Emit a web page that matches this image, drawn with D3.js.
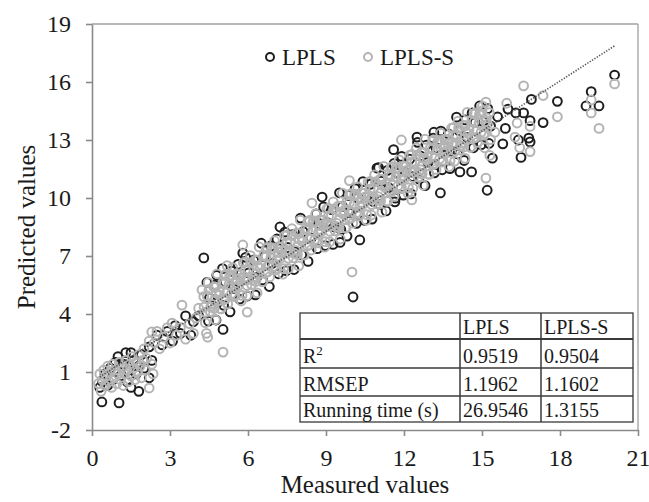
<!DOCTYPE html>
<html>
<head>
<meta charset="utf-8">
<script src="https://cdn.jsdelivr.net/npm/d3@7"></script>
<style>
  html, body { margin: 0; padding: 0; background: #fff; }
  svg { display: block; }
  text { font-family: "Liberation Serif", "Times New Roman", serif; fill: #1a1a1a; }
</style>
</head>
<body>
<svg id="chart" width="649" height="502"></svg>
<script>
// ---------------- DATA ----------------
const xTicks = [0, 3, 6, 9, 12, 15, 18, 21];
const yTicks = [-2, 1, 4, 7, 10, 13, 16, 19];
const seriesNames = ["LPLS", "LPLS-S"];

// LPLS (black) : [measured, predicted]
const lplsPoints = [
  [0.3,0.2],[0.38,-0.55],[0.4,0.5],[0.5,0.9],[0.6,0.3],[0.7,1.2],[0.8,0.6],[0.9,1.5],[1.04,-0.6],[1.0,1.8],
  [1.1,0.8],[1.2,1.4],[1.3,2.0],[1.35,0.5],[1.4,1.1],[1.5,2.0],[1.5,0.2],[1.6,1.6],[1.7,0.9],[1.8,1.3],
  [1.8,0.0],[1.9,1.9],[2.0,1.2],[2.2,0.7],[2.2,2.3],[2.3,1.6],
  [2.5,2.9],[2.7,2.4],[2.9,3.1],[3.1,2.6],[3.2,3.4],[3.4,3.0],[3.6,3.9],[3.8,2.9],[3.9,3.6],[4.1,3.9],
  [4.42,5.63],[4.48,3.63],[4.52,4.83],[4.72,5.49],[4.77,3.69],[4.83,4.59],[5.02,6.35],[5.06,4.45],[5.12,5.65],
  [5.31,4.11],[5.37,6.21],[5.43,5.31],[5.62,6.57],[5.68,4.77],[5.73,6.07],[5.91,6.93],[5.97,4.93],[6.03,6.13],
  [6.22,6.79],[6.28,4.99],[6.33,5.89],[6.51,7.66],[6.56,5.76],[6.62,6.96],[6.82,5.42],[6.87,7.52],[6.93,6.62],
  [7.11,7.88],[7.17,6.08],[7.22,7.38],[7.42,8.24],[7.47,6.24],[7.53,7.44],[7.71,8.1],[7.77,6.3],[7.83,7.2],
  [8.02,8.96],[8.07,7.06],[8.12,8.26],[8.31,6.72],[8.36,8.82],[8.43,7.92],[8.62,9.18],[8.67,7.38],[8.73,8.68],
  [8.91,9.54],[8.97,7.54],[9.03,8.74],[9.22,9.4],[9.27,7.6],[9.33,8.5],[9.52,10.27],[9.57,8.37],[9.63,9.57],
  [9.81,8.03],[9.86,10.13],[9.92,9.23],[10.12,10.49],[10.17,8.69],[10.23,9.99],[10.42,10.85],[10.47,8.85],[10.53,10.05],
  [10.71,10.71],[10.77,8.91],[10.83,9.81],[11.02,11.57],[11.07,9.67],[11.12,10.87],[11.31,9.33],[11.36,11.43],[11.42,10.53],
  [11.62,11.79],[11.67,9.99],[11.73,11.29],[11.91,12.15],[11.97,10.15],[12.03,11.35],[12.22,12.01],[12.27,10.21],[12.33,11.11],
  [12.52,12.88],[12.57,10.98],[12.63,12.18],[12.81,10.64],[12.86,12.74],[12.92,11.84],[13.12,13.1],[13.17,11.3],[13.23,12.6],
  [13.42,13.46],[13.47,11.46],[13.53,12.66],[13.71,13.32],[13.77,11.52],[13.83,12.42],[14.02,14.18],[14.07,12.28],[14.12,13.48],
  [14.31,11.94],[14.36,14.04],[14.42,13.14],[14.62,14.4],[14.67,12.6],[14.73,13.9],[14.91,14.76],[14.97,12.76],[15.03,13.96],
  [15.22,14.62],[15.27,12.82],[15.33,13.72],
  [4.3,6.9],[4.8,6.0],[5.8,7.15],[7.23,8.5],[8.85,10.05],[10.96,11.55],[11.6,12.5],[12.5,13.15],[13.15,13.4],
  [9.54,7.7],[10.3,7.83],[11.65,9.8],[13.4,10.26],[15.2,10.4],[15.4,12.06],[16.5,12.1],[10.04,4.88],[5.04,3.2],
  [14.15,11.35],[14.6,11.35],[16.9,15.1],[17.9,15.0],[17.35,13.9],[16.3,14.4],[16.6,14.4],[16.85,14.0],[16.8,13.1],
  [16.85,12.9],[16.4,13.0],[15.8,12.8],[19.2,15.5],[19.0,14.76],[19.5,14.76],[20.1,16.36],[15.6,14.2],[16.0,14.6],[15.9,13.6]
];

// LPLS-S (grey) : [measured, predicted]
const lplsSPoints = [
  [0.25,0.4],[0.3,0.9],[0.35,0.0],[0.4,0.6],[0.45,1.1],[0.5,0.3],[0.55,0.8],[0.6,1.3],[0.65,0.5],[0.7,1.0],
  [0.75,0.2],[0.8,1.4],[0.85,0.7],[0.9,1.1],[0.95,0.4],[1.0,0.9],[1.05,1.5],[1.1,0.6],[1.15,1.2],[1.2,0.3],
  [1.25,0.9],[1.3,1.6],[1.35,1.1],[1.4,0.5],[1.45,1.4],[1.5,0.8],[1.55,1.8],[1.6,1.2],[1.65,0.6],[1.7,1.5],
  [1.75,1.0],[1.8,1.9],[1.85,1.3],[1.9,0.7],[1.95,1.6],[2.0,2.2],[2.05,1.1],[2.1,1.7],[2.2,0.17],[2.2,2.6],
  [2.3,1.4],[2.35,0.9],[2.3,3.07],
  [2.4,2.5],[2.5,3.1],[2.6,2.2],[2.75,2.8],[2.9,3.3],[3.0,2.5],[3.08,3.53],[3.25,2.9],[3.4,3.3],[3.46,4.46],
  [3.6,2.7],[3.75,3.5],[3.9,3.0],[4.0,3.8],[4.1,4.3],[4.4,3.0],[4.45,2.8],
  [4.23,5.25],[4.31,4.35],[4.36,3.55],[4.43,4.93],[4.47,5.63],[4.55,4.13],[4.62,4.5],[4.68,5.4],[4.75,3.7],
  [4.81,6.08],[4.89,4.98],[4.94,4.28],[5.04,5.65],[5.09,4.75],[5.15,6.05],[5.22,4.52],[5.27,5.52],[5.35,6.02],
  [5.41,6.4],[5.48,4.9],[5.55,5.6],[5.63,5.47],[5.69,6.07],[5.74,4.67],[5.82,6.65],[5.88,5.75],[5.95,4.95],
  [6.02,6.32],[6.09,7.02],[6.14,5.52],[6.21,5.89],[6.28,6.79],[6.35,5.09],[6.43,7.47],[6.47,6.37],[6.55,5.67],
  [6.61,7.04],[6.68,6.14],[6.74,7.44],[6.83,5.92],[6.88,6.92],[6.95,7.42],[7.02,7.79],[7.07,6.29],[7.15,6.99],
  [7.23,6.86],[7.29,7.46],[7.34,6.06],[7.41,8.04],[7.48,7.14],[7.55,6.34],[7.62,7.71],[7.69,8.41],[7.74,6.91],
  [7.83,7.29],[7.87,8.19],[7.95,6.49],[8.01,8.86],[8.08,7.76],[8.14,7.06],[8.22,8.43],[8.28,7.53],[8.35,8.83],
  [8.43,7.31],[8.49,8.31],[8.54,8.81],[8.61,9.18],[8.67,7.68],[8.75,8.38],[8.82,8.26],[8.89,8.86],[8.95,7.46],
  [9.03,9.43],[9.08,8.53],[9.14,7.73],[9.21,9.1],[9.28,9.8],[9.35,8.3],[9.42,8.68],[9.47,9.58],[9.55,7.88],
  [9.63,10.25],[9.68,9.15],[9.74,8.45],[9.81,9.83],[9.88,8.93],[9.95,10.23],[10.03,8.7],[10.09,9.7],[10.14,10.2],
  [10.22,10.57],[10.27,9.07],[10.35,9.77],[10.41,9.65],[10.48,10.25],[10.55,8.85],[10.62,10.82],[10.69,9.92],[10.74,9.12],
  [10.83,10.5],[10.87,11.2],[10.95,9.7],[11.01,10.07],[11.08,10.97],[11.15,9.27],[11.22,11.64],[11.28,10.54],[11.34,9.84],
  [11.43,11.22],[11.47,10.32],[11.55,11.62],[11.62,10.09],[11.69,11.09],[11.75,11.59],[11.81,11.97],[11.88,10.47],[11.94,11.17],
  [12.03,11.04],[12.08,11.64],[12.15,10.24],[12.22,12.21],[12.29,11.31],[12.34,10.51],[12.42,11.89],[12.48,12.59],[12.55,11.09],
  [12.63,11.46],[12.67,12.36],[12.74,10.66],[12.81,13.04],[12.88,11.94],[12.95,11.24],[13.02,12.61],[13.09,11.71],[13.14,13.01],
  [13.23,11.48],[13.28,12.48],[13.35,12.98],[13.41,13.36],[13.47,11.86],[13.55,12.56],[13.62,12.43],[13.69,13.03],[13.74,11.63],
  [13.83,13.61],[13.88,12.71],[13.95,11.91],[14.01,13.28],[14.08,13.98],[14.14,12.48],[14.22,12.85],[14.28,13.75],[14.35,12.05],
  [14.43,14.43],[14.47,13.33],[14.55,12.63],[14.61,14.0],[14.68,13.1],[14.74,14.4],[14.82,12.88],[14.89,13.88],[14.95,14.38],
  [15.02,14.75],[15.07,13.25],[15.14,13.95],[15.21,13.82],[15.28,14.42],[15.33,13.02],
  [4.3,4.9],[4.35,4.1],[4.7,4.69],[4.75,5.39],[5.1,5.59],[5.14,4.79],[5.5,5.39],[5.56,6.09],[5.9,6.28],[5.96,5.48],
  [6.3,6.08],[6.35,6.78],[6.7,6.98],[6.76,6.18],[7.1,6.78],[7.16,7.48],[7.5,7.68],[7.55,6.88],[7.9,7.47],[7.96,8.17],
  [8.3,8.37],[8.36,7.57],[8.7,8.17],[8.76,8.87],[9.1,9.07],[9.16,8.27],[9.5,8.87],[9.56,9.57],[9.9,9.76],[9.96,8.96],
  [10.3,9.56],[10.36,10.26],[10.7,10.46],[10.76,9.66],[11.1,10.26],[11.16,10.96],[11.5,11.16],[11.56,10.36],[11.9,10.95],[11.96,11.65],
  [12.3,11.85],[12.36,11.05],[12.7,11.65],[12.76,12.35],[13.1,12.55],[13.16,11.75],[13.5,12.35],[13.56,13.05],[13.9,13.24],[13.96,12.44],
  [14.3,13.04],[14.36,13.74],[14.7,13.94],[14.76,13.14],
  [4.5,5.27],[4.57,4.37],[4.7,4.29],[4.77,5.09],[4.9,5.16],[4.97,4.26],[5.1,5.99],[5.17,5.09],[5.3,5.96],[5.37,5.06],
  [5.5,4.99],[5.57,5.79],[5.7,5.86],[5.77,4.96],[5.9,6.68],[5.97,5.78],[6.1,6.66],[6.17,5.76],[6.3,5.68],[6.37,6.48],
  [6.5,6.56],[6.57,5.66],[6.7,7.38],[6.77,6.48],[6.9,7.35],[6.97,6.45],[7.1,6.38],[7.17,7.18],[7.3,7.25],[7.37,6.35],
  [7.5,8.08],[7.57,7.18],[7.7,8.05],[7.77,7.15],[7.9,7.07],[7.97,7.87],[8.1,7.95],[8.17,7.05],[8.3,8.77],[8.37,7.87],
  [8.5,8.75],[8.57,7.85],[8.7,7.77],[8.77,8.57],[8.9,8.64],[8.97,7.74],[9.1,9.47],[9.17,8.57],[9.3,9.44],[9.37,8.54],
  [9.5,8.47],[9.57,9.27],[9.7,9.34],[9.77,8.44],[9.9,10.16],[9.97,9.26],[10.1,10.14],[10.17,9.24],[10.3,9.16],[10.37,9.96],
  [10.5,10.04],[10.57,9.14],[10.7,10.86],[10.77,9.96],[10.9,10.83],[10.97,9.93],[11.1,9.86],[11.17,10.66],[11.3,10.73],[11.37,9.83],
  [11.5,11.56],[11.57,10.66],[11.7,11.53],[11.77,10.63],[11.9,10.55],[11.97,11.35],[12.1,11.43],[12.17,10.53],[12.3,12.25],[12.37,11.35],
  [12.5,12.23],[12.57,11.33],[12.7,11.25],[12.77,12.05],[12.9,12.12],[12.97,11.22],[13.1,12.95],[13.17,12.05],[13.3,12.92],[13.37,12.02],
  [13.5,11.95],[13.57,12.75],[13.7,12.82],[13.77,11.92],[13.9,13.64],[13.97,12.74],[14.1,13.62],[14.17,12.72],[14.3,12.64],[14.37,13.44],
  [14.5,13.52],[14.57,12.62],[14.7,14.34],[14.77,13.44],[14.9,14.31],[14.97,13.41],[15.1,13.34],[15.17,14.14],
  [15.0,14.5],[15.1,12.6],[15.15,14.96],[15.15,11.03],[15.3,12.2],[15.5,13.4],
  [5.04,2.03],[5.97,4.1],[10.0,6.17],[12.3,9.9],[11.9,13.0],[9.9,10.9],[8.46,9.74],[5.8,7.57],[5.2,6.5],
  [16.6,15.8],[16.85,12.4],[16.35,13.88],[16.85,13.7],[16.27,13.15],[16.45,12.6],[15.95,14.9],[17.35,15.3],
  [17.9,14.2],[19.2,15.07],[19.2,14.4],[19.5,13.6],[20.1,15.9]
];

// dotted trend line end points
const trendX = [0.3, 20.1];
const trendY = [0.75, 17.87];

const tableHeader = ["", "LPLS", "LPLS-S"];
const tableRows = [
  ["R", "0.9519", "0.9504"],
  ["RMSEP", "1.1962", "1.1602"],
  ["Running time (s)", "26.9546", "1.3155"]
];

// ---------------- CHART ----------------
const svg = d3.select("#chart");
const L = 92, R = 638, T = 24, B = 430;
const x = d3.scaleLinear().domain([0, 21]).range([L, R]);
const y = d3.scaleLinear().domain([-2, 19]).range([B, T]);

const axisColor = "#8a8a8a";

// frame (top & right)
svg.append("line").attr("x1", L).attr("x2", R).attr("y1", T).attr("y2", T)
  .attr("stroke", "#a0a0a0").attr("stroke-width", 1.3);
svg.append("line").attr("x1", R).attr("x2", R).attr("y1", T).attr("y2", B)
  .attr("stroke", "#a0a0a0").attr("stroke-width", 1.3);

const fmt = d => String(d);
const gx = svg.append("g").attr("transform", `translate(0,${B})`)
  .call(d3.axisBottom(x).tickValues(xTicks).tickSize(6).tickSizeOuter(0).tickPadding(13).tickFormat(fmt));
const gy = svg.append("g").attr("transform", `translate(${L},0)`)
  .call(d3.axisLeft(y).tickValues(yTicks).tickSize(6).tickSizeOuter(0).tickPadding(15).tickFormat(fmt));
[gx, gy].forEach(g => {
  g.attr("font-family", null);
  g.select(".domain").attr("stroke", axisColor).attr("stroke-width", 1.6);
  g.selectAll(".tick line").attr("stroke", axisColor).attr("stroke-width", 1.6);
  g.selectAll(".tick text").style("font-family", "'Liberation Serif', serif")
    .style("font-size", "24px").attr("fill", "#1a1a1a");
});

// points
const plot = svg.append("g");
plot.selectAll("circle.lpls").data(lplsPoints).join("circle")
  .attr("class", "lpls")
  .attr("cx", d => x(d[0])).attr("cy", d => y(d[1])).attr("r", 4.4)
  .attr("fill", "none").attr("stroke", "#1e1e1e").attr("stroke-width", 2);
plot.selectAll("circle.lplss").data(lplsSPoints).join("circle")
  .attr("class", "lplss")
  .attr("cx", d => x(d[0])).attr("cy", d => y(d[1])).attr("r", 4.4)
  .attr("fill", "none").attr("stroke", "#b4b4b4").attr("stroke-width", 2);

// trend line
svg.append("line")
  .attr("x1", x(trendX[0])).attr("y1", y(trendY[0]))
  .attr("x2", x(trendX[1])).attr("y2", y(trendY[1]))
  .attr("stroke", "#555").attr("stroke-width", 1.6)
  .attr("stroke-dasharray", "1.3,1.5");

// legend
const legend = svg.append("g");
const legItems = [
  { name: seriesNames[0], cx: 270, color: "#1e1e1e" },
  { name: seriesNames[1], cx: 368, color: "#b4b4b4" }
];
legItems.forEach(it => {
  legend.append("circle").attr("cx", it.cx).attr("cy", 57).attr("r", 4)
    .attr("fill", "none").attr("stroke", it.color).attr("stroke-width", 2);
  legend.append("text").attr("x", it.cx + 12).attr("y", 65)
    .style("font-size", "23px").text(it.name);
});

// table
const colX = [300, 460, 541, 633];
const rowY = [313, 339, 368, 396, 422];
const tbl = svg.append("g");
tbl.append("rect").attr("x", colX[0]).attr("y", rowY[0])
  .attr("width", colX[3] - colX[0]).attr("height", rowY[4] - rowY[0])
  .attr("fill", "#fff").attr("stroke", "#3a3a3a").attr("stroke-width", 1.3);
rowY.slice(1, 4).forEach((ry, i) => {
  tbl.append("line").attr("x1", colX[0]).attr("x2", colX[3]).attr("y1", ry).attr("y2", ry)
    .attr("stroke", "#3a3a3a").attr("stroke-width", i === 0 ? 2 : 1.5);
});
colX.slice(1, 3).forEach(cx => {
  tbl.append("line").attr("x1", cx).attr("x2", cx).attr("y1", rowY[0]).attr("y2", rowY[4])
    .attr("stroke", "#3a3a3a").attr("stroke-width", 1.5);
});
const allRows = [tableHeader].concat(tableRows);
allRows.forEach((row, ri) => {
  row.forEach((cell, ci) => {
    if (!cell) return;
    const t = tbl.append("text").attr("x", colX[ci] + 3).attr("y", rowY[ri + 1] - 5)
      .style("font-size", "20px").text(cell);
    if (ri === 1 && ci === 0) {
      t.append("tspan").attr("dy", -8).style("font-size", "13px").text("2");
    }
  });
});

// axis titles
svg.append("text").attr("x", (L + R) / 2).attr("y", 493).attr("text-anchor", "middle")
  .style("font-size", "25px").text("Measured values");
svg.append("text").attr("transform", `translate(35,${(T + B) / 2}) rotate(-90)`)
  .attr("text-anchor", "middle").style("font-size", "25px").text("Predicted values");
</script>
</body>
</html>
